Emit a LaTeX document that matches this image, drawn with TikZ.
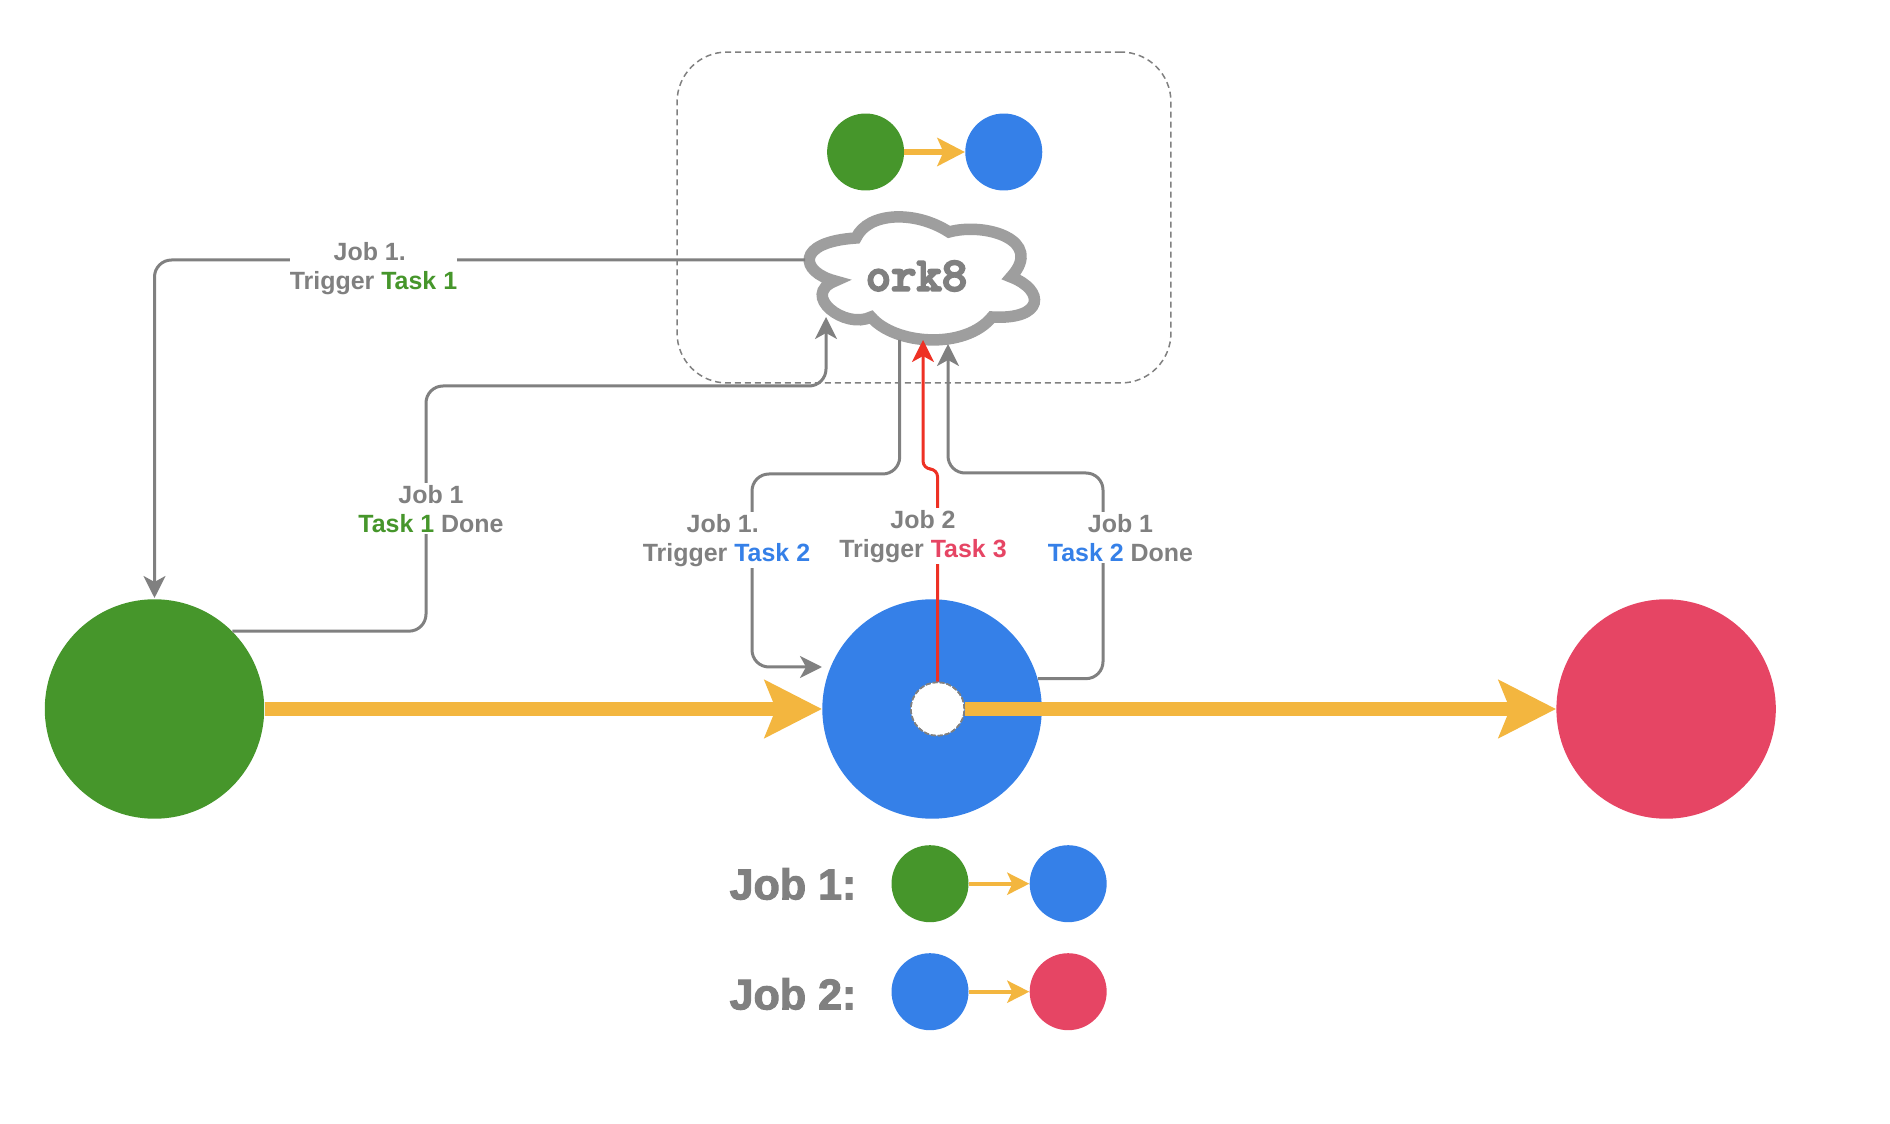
\documentclass[tikz,border=0pt]{standalone}
\usepackage{fontspec}
\setmainfont{Liberation Sans}
\usepackage{xcolor}
\usetikzlibrary{arrows.meta, positioning}

\definecolor{jobgray}{HTML}{808080}
\definecolor{cloudgray}{HTML}{9E9E9E}
\definecolor{taskgreen}{HTML}{46962B}
\definecolor{taskblue}{HTML}{3580E8}
\definecolor{taskred}{HTML}{E64564}
\definecolor{flowyellow}{HTML}{F3B63F}
\definecolor{trigred}{HTML}{EE3124}

\newcommand{\heavytext}[2]{\special{pdf:code 2 Tr #1 w}#2\special{pdf:code 0 Tr}}

\begin{document}
\begin{tikzpicture}[
    x=0.02cm, y=-0.02cm,
    node distance=1.21cm,
    bigtask/.style={circle, minimum size=4.39cm, inner sep=0pt},
    smalltask/.style={circle, minimum size=1.54cm, inner sep=0pt},
    flow/.style={line width=0.11cm, draw=flowyellow, -{Stealth[length=0.55cm, width=0.56cm, inset=0.12cm]}},
    legendflow/.style={line width=0.085cm, draw=flowyellow, -{Stealth[length=0.44cm, width=0.44cm, inset=0.1cm]}},
    bigflow/.style={line width=0.28cm, draw=flowyellow, -{Stealth[length=1.14cm, width=1.14cm, inset=0.22cm]}},
    link/.style={line width=0.06cm, draw=jobgray, rounded corners=0.34cm, -{Stealth[length=0.44cm, width=0.44cm, inset=0.12cm]}},
    label/.style={font=\fontsize{14.2pt}{16.6pt}\selectfont\bfseries, text=jobgray, align=center, fill=white, inner xsep=0pt, inner ysep=1pt},
    legend/.style={font=\fontsize{24.5pt}{29pt}\selectfont\bfseries, text=jobgray},
    hole/.style={circle, minimum size=1.07cm, inner sep=0pt, draw=jobgray, line width=0.03cm, dash pattern=on 0.1cm off 0.04cm},
]
    \useasboundingbox (0,0) rectangle (1890,1124);

    \node[draw=jobgray, line width=0.03cm, dash pattern=on 0.12cm off 0.08cm, rounded corners=1cm,
          minimum width=9.88cm, minimum height=6.62cm, inner sep=0pt] (frame) at (924,217.5) {};

    % Top job
    \node[smalltask, fill=taskgreen] (topgreen) at (865.6,152) {};
    \node[smalltask, fill=taskblue, right=of topgreen] (topblue) {};
    \draw[flow] (topgreen) -- (topblue);

    % Cloud
    \draw[line width=0.23cm, draw=cloudgray, fill=white, miter limit=8]
        (856,238) .. controls (868,212) and (915,210) .. (949,232)
        .. controls (985,222) and (1045,240) .. (1011,277)
        .. controls (1045,290) and (1045,320) .. (992,317)
        .. controls (965,350) and (895,345) .. (871,317)
        .. controls (845,330) and (800,295) .. (835,281)
        .. controls (800,272) and (795,242) .. (856,238) -- cycle;
    \node[font=\fontsize{27.5pt}{30pt}\selectfont\ttfamily\bfseries, text=jobgray, inner sep=0pt] (ork8) at (916.5,276) {\heavytext{1.1}{ork8}};

    \coordinate (cloudOutA) at (805,260);
    \coordinate (cloudInA) at (826,317);
    \coordinate (cloudOutB) at (899.7,340);
    \coordinate (cloudInC) at (923,340);
    \coordinate (cloudInB) at (948,344);

    % Main tasks
    \node[bigtask, fill=taskgreen] (green) at (154.5,709) {};
    \node[bigtask, fill=taskblue, right=11.15cm of green] (blue) {};
    \node[bigtask, fill=taskred, right=10.28cm of blue] (red) {};
    \node[hole, fill=white] (whole) at (937.6,709) {};

    \coordinate (blueIn) at (822,667);

    \draw[bigflow] (green) -- (blue);
    \draw[bigflow] (whole) -- (red);

    % Connectors
    \draw[link] (cloudOutA) -| (154.5,598);
    \draw[link] (green.45) -| (426,386) -| (cloudInA);
    \draw[link] (cloudOutB) |- (752,474) |- (blueIn);
    \draw[link] (blue.16) -| (1103,473) -| (cloudInB);
    \draw[link, draw=trigred, rounded corners=0.16cm] (whole) |- (923,469) -- (cloudInC);
    \node[hole] at (whole) {};

    % Labels
    \node[label] (lblA) at (373.5,268.4) {Job 1.\hspace*{.3em}\\Trigger \textcolor{taskgreen}{Task 1}};
    \node[label] (lblB) at (431,509) {Job 1\\\textcolor{taskgreen}{Task 1} Done};
    \node[label] (lblC) at (726.5,540.3) {Job 1.\hspace*{.3em}\\Trigger \textcolor{taskblue}{Task 2}};
    \node[label] (lblD) at (923,536.3) {Job 2\\Trigger \textcolor{taskred}{Task 3}};
    \node[label] (lblE) at (1120.5,537.9) {Job 1\\\textcolor{taskblue}{Task 2} Done};

    % Legend
    \node[smalltask, fill=taskgreen] (legA) at (930,883.7) {};
    \node[smalltask, fill=taskblue, right=of legA] (legB) {};
    \node[smalltask, fill=taskblue] (legC) at (930,991.7) {};
    \node[smalltask, fill=taskred, right=of legC] (legD) {};
    \draw[legendflow] (legA) -- (legB);
    \draw[legendflow] (legC) -- (legD);
    \node[legend] (jobA) at (793,884) {\heavytext{0.6}{Job 1:}};
    \node[legend] (jobB) at (793,994) {\heavytext{0.6}{Job 2:}};
\end{tikzpicture}
\end{document}
